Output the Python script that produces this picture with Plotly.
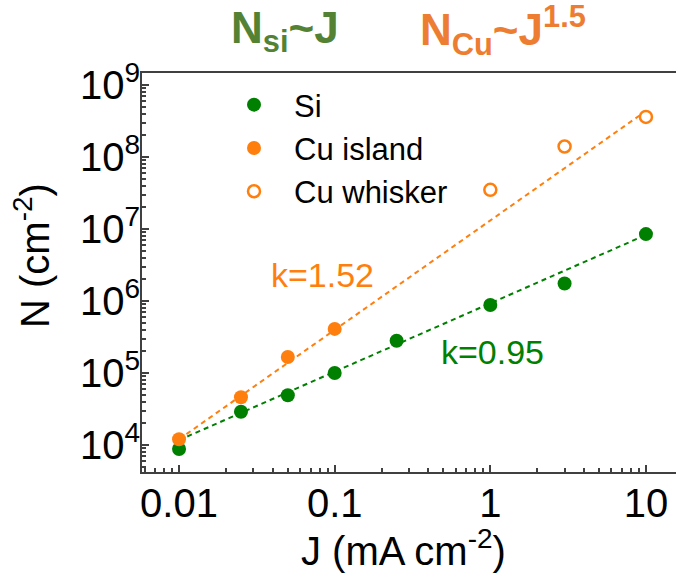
import plotly.graph_objects as go
import numpy as np

# ---- data ----
J_SI = [0.01, 0.025, 0.05, 0.1, 0.25, 1, 3, 10]
N_SI = [8.8e3, 2.9e4, 4.9e4, 1.0e5, 2.8e5, 8.8e5, 1.75e6, 8.5e6]

J_CU_ISLAND = [0.01, 0.025, 0.05, 0.1]
N_CU_ISLAND = [1.2e4, 4.6e4, 1.67e5, 4.1e5]

J_CU_WHISKER = [1, 3, 10]
N_CU_WHISKER = [3.5e7, 1.4e8, 3.6e8]

# power-law fits N = N0 * (J / J0)^k
J_FIT = [0.01, 10]
FIT_SI_K, FIT_SI_N0 = 0.95, 1.17e4
FIT_CU_K, FIT_CU_N0 = 1.52, 1.2e4

X_TICKS = [0.01, 0.1, 1, 10]
X_TICKTEXT = ["0.01", "0.1", "1", "10"]
Y_TICKS = [1e4, 1e5, 1e6, 1e7, 1e8, 1e9]
Y_TICKTEXT = ["10<sup>4</sup>", "10<sup>5</sup>", "10<sup>6</sup>",
              "10<sup>7</sup>", "10<sup>8</sup>", "10<sup>9</sup>"]

GREEN = "#008000"
ORANGE = "#FF7F0E"
FONT = "Arial, Liberation Sans, sans-serif"

W, H = 676, 577
L, R, T, B = 142, 0, 73, 105
pw, ph = W - L - R, H - T - B


def px_to_paper(x, y):
    return (x - L) / pw, (H - B - y) / ph


jf = np.array(J_FIT)
fit_si = FIT_SI_N0 * (jf / J_FIT[0]) ** FIT_SI_K
fit_cu = FIT_CU_N0 * (jf / J_FIT[0]) ** FIT_CU_K

fig = go.Figure()
fig.add_trace(go.Scatter(x=jf, y=fit_si, mode="lines", showlegend=False,
                         line=dict(color=GREEN, width=2, dash="5px,4px")))
fig.add_trace(go.Scatter(x=jf, y=fit_cu, mode="lines", showlegend=False,
                         line=dict(color=ORANGE, width=2, dash="5px,4px")))
fig.add_trace(go.Scatter(x=J_SI, y=N_SI, mode="markers", name="Si",
                         marker=dict(color=GREEN, size=14)))
fig.add_trace(go.Scatter(x=J_CU_ISLAND, y=N_CU_ISLAND, mode="markers", name="Cu island",
                         marker=dict(color=ORANGE, size=14)))
fig.add_trace(go.Scatter(x=J_CU_WHISKER, y=N_CU_WHISKER, mode="markers", name="Cu whisker",
                         marker=dict(color="white", size=12, symbol="circle",
                                     line=dict(color=ORANGE, width=2.5))))

axis_common = dict(
    showgrid=False, zeroline=False, showline=True, linecolor="#404040", linewidth=2,
    ticks="inside", ticklen=7, tickwidth=2, tickcolor="#404040", automargin=False,
    minor=dict(ticks="inside", ticklen=4, tickwidth=1.5, tickcolor="#404040",
               dtick="D1", showgrid=False),
)

fig.update_xaxes(type="log", range=[-2.238, 1.193], tickvals=X_TICKS, ticktext=X_TICKTEXT,
                 tickfont=dict(size=40, color="black"), mirror=True, ticklabelstandoff=-5,
                 **axis_common)
fig.update_yaxes(type="log", range=[3.625, 9.167], tickvals=Y_TICKS, ticktext=Y_TICKTEXT,
                 tickfont=dict(size=40, color="black"), mirror=False, ticklabelstandoff=-8,
                 **axis_common)

# axis titles
tx, ty = px_to_paper(403, 548)
fig.add_annotation(x=tx, y=ty, xref="paper", yref="paper", xanchor="center",
                   yanchor="middle", text="J (mA cm<sup>-2</sup>)", showarrow=False,
                   font=dict(size=40, color="black"))
tx, ty = px_to_paper(32, 256)
fig.add_annotation(x=tx, y=ty, xref="paper", yref="paper", xanchor="center",
                   yanchor="middle", text="N (cm<sup>-2</sup>)", showarrow=False,
                   textangle=-90, font=dict(size=40, color="black"))

fig.add_annotation(x=np.log10(0.084), y=6.36, xref="x", yref="y", text="k=1.52",
                   showarrow=False, font=dict(size=34, color=ORANGE))
fig.add_annotation(x=np.log10(1.04), y=5.29, xref="x", yref="y", text="k=0.95",
                   showarrow=False, font=dict(size=34, color=GREEN))
ax1, ay1 = px_to_paper(285, 31)
fig.add_annotation(x=ax1, y=ay1, xref="paper", yref="paper", xanchor="center",
                   yanchor="middle", text="<b>N<sub>si</sub>~J</b>",
                   showarrow=False, font=dict(size=44, color="#548235"))
ax2, ay2 = px_to_paper(503, 31)
fig.add_annotation(x=ax2, y=ay2, xref="paper", yref="paper", xanchor="center",
                   yanchor="middle", text="<b>N<sub>Cu</sub>~J<sup>1.5</sup></b>",
                   showarrow=False, font=dict(size=44, color="#ED7D31"))

lx, ly = px_to_paper(214, 78)
fig.update_layout(
    width=W, height=H, margin=dict(l=L, r=R, t=T, b=B, autoexpand=False),
    paper_bgcolor="white", plot_bgcolor="white",
    font=dict(family=FONT, color="black"),
    legend=dict(x=lx, y=ly, xanchor="left", yanchor="top",
                bgcolor="rgba(0,0,0,0)", font=dict(size=31, color="black"),
                itemwidth=70, tracegroupgap=0),
)

fig.write_html("out.html", config={"displayModeBar": False},
               post_script="document.body.style.margin='0';")
